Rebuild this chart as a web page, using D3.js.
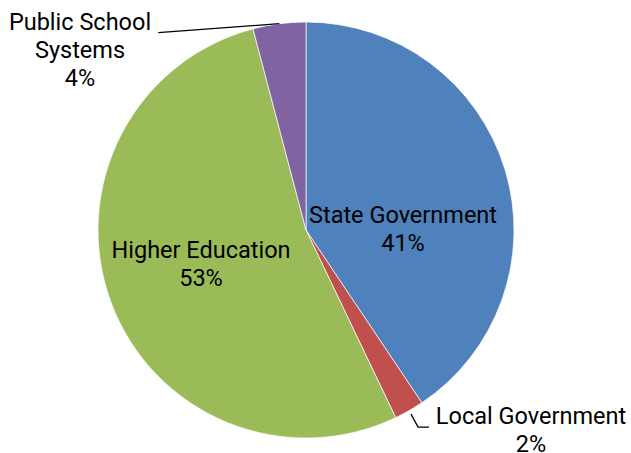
<!DOCTYPE html>
<meta charset="utf-8">
<style>
body { margin: 0; background: #fff; }
text { font-family: Roboto, "Liberation Sans", sans-serif; font-size: 23.5px; fill: #000; }
</style>
<body>
<script src="https://d3js.org/d3.v7.min.js"></script>
<script>

var width = 631,
    height = 453;

// slices, clockwise from 12 o'clock
var categories = ["State Government", "Local Government", "Higher Education", "Public School Systems"];
var shares = [40.6, 2.3, 53.0, 4.1];
var colors = ["#4F81BD", "#C0504D", "#9BBB59", "#8064A2"];
var labelText = [["State Government", "41%"], ["Local Government", "2%"], ["Higher Education", "53%"], ["Public School", "Systems", "4%"]];

var cx = 306, cy = 230, radius = 208;

var svg = d3.select("body").append("svg")
    .attr("width", width)
    .attr("height", height);

var g = svg.append("g").attr("transform", "translate(" + cx + "," + cy + ")");

var pie = d3.pie().sort(null).value(function(d) { return d; });
var arcs = pie(shares);

var arc = d3.arc().innerRadius(0).outerRadius(radius);

g.selectAll("path")
    .data(arcs)
    .enter()
    .append("path")
    .attr("d", arc)
    .attr("fill", function(d, i) { return colors[i]; })
    .attr("stroke", "#fff")
    .attr("stroke-width", 0.7);

// label placement (relative to pie centre, first baseline)
var labelPos = [
  {x: 97, y: -7},
  {x: 225, y: 194},
  {x: -105, y: 28},
  {x: -226, y: -200}
];

function edgePoint(d, r) {
  var a = (d.startAngle + d.endAngle) / 2;
  return [r * Math.sin(a), -r * Math.cos(a)];
}

// leader lines for the small slices
var p = edgePoint(arcs[1], radius + 4);
g.append("polyline")
    .attr("points", [p, [p[0] + 7, p[1] + 13], [p[0] + 18, p[1] + 13]].join(" "))
    .attr("fill", "none").attr("stroke", "#000").attr("stroke-width", 1.3);

var q = edgePoint(arcs[3], radius);
g.append("polyline")
    .attr("points", [q, [q[0] - 121, q[1] + 9]].join(" "))
    .attr("fill", "none").attr("stroke", "#000").attr("stroke-width", 1.3);

labelText.forEach(function(lines, i) {
  var t = g.append("text")
      .attr("text-anchor", "middle")
      .attr("transform", "translate(" + labelPos[i].x + "," + labelPos[i].y + ")");
  lines.forEach(function(s, j) {
    t.append("tspan")
        .attr("x", 0)
        .attr("y", j * 28)
        .text(s);
  });
});

</script>
